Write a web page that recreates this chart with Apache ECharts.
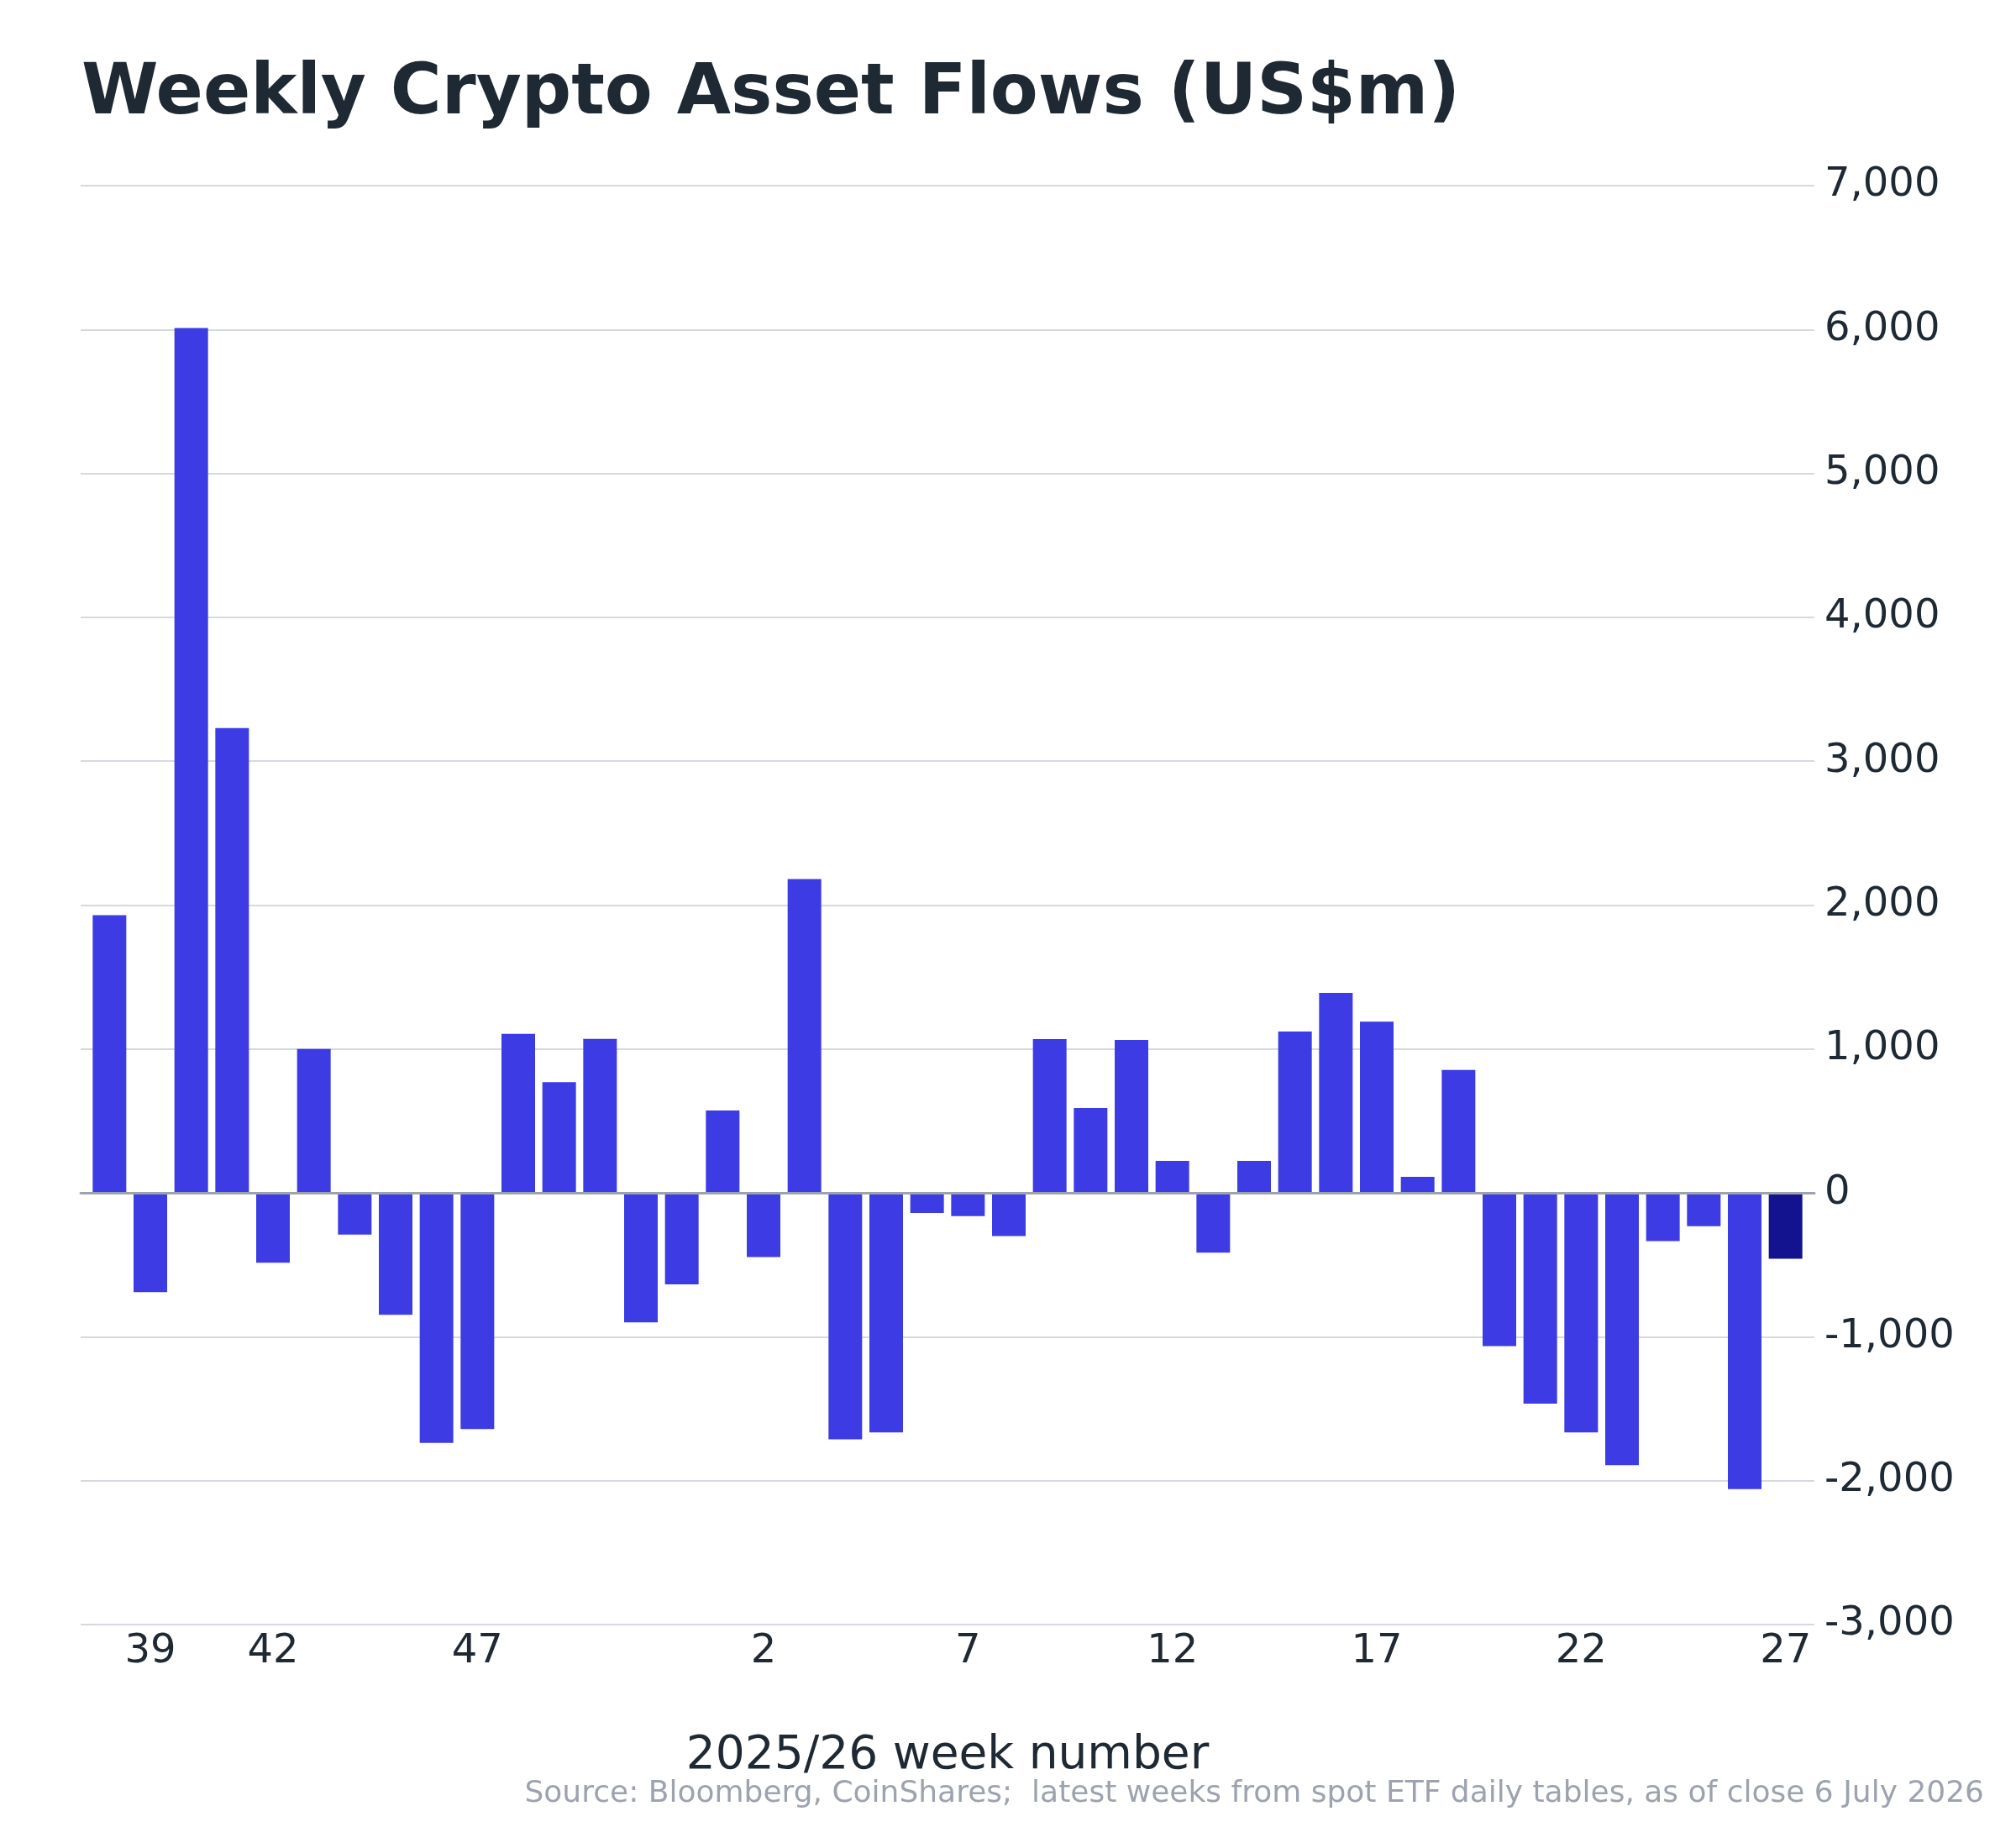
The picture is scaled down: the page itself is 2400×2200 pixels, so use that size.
<!DOCTYPE html>
<html>
<head>
<meta charset="utf-8">
<script src="https://cdn.jsdelivr.net/npm/echarts@6/dist/echarts.min.js"></script>
<style>
  html, body { margin: 0; padding: 0; background: #fff; }
  #chart { width: 2400px; height: 2200px; }
</style>
</head>
<body>
<div id="chart"></div>
<script>
// week numbers, 2025 wk 38 through 2026 wk 27
const weeks = [
  '38', '39', '40', '41', '42', '43', '44', '45', '46', '47', '48', '49', '50', '51', '52',
  '1', '2', '3', '4', '5', '6', '7', '8', '9', '10', '11', '12', '13', '14', '15',
  '16', '17', '18', '19', '20', '21', '22', '23', '24', '25', '26', '27'
]
// weekly net flows, US$m
const flows = [
  1930, -690, 6010, 3230, -485, 1000, -290, -847, -1738, -1642, 1105, 770, 1070, -900, -636,
  572, -446, 2181, -1713, -1665, -140, -162, -300, 1069, 590, 1063, 222, -415, 222, 1122,
  1390, 1190, 112, 855, -1065, -1464, -1665, -1892, -335, -232, -2058, -457
]
const labelWeeks = ['39', '42', '47', '2', '7', '12', '17', '22', '27']
const latestWeek = '27'

const FONT = 'DejaVu Sans'
const INK = '#1F2933'

const chart = echarts.init(document.getElementById('chart'))

chart.setOption({
  animation: false,
  backgroundColor: '#ffffff',
  title: {
    text: 'Weekly Crypto Asset Flows (US$m)',
    left: 92,
    top: 67,
    textStyle: { fontFamily: FONT, fontSize: 83, fontWeight: 'bold', color: INK }
  },
  grid: [
    // gridlines + y labels
    { left: 96, right: 240, top: 221, bottom: 266 },
    // bars, inset a little
    { left: 106, right: 250, top: 221, bottom: 266 }
  ],
  xAxis: [
    {
      gridIndex: 0,
      type: 'value',
      min: 0,
      max: 1,
      z: 5,
      axisLine: { show: true, onZero: true, lineStyle: { color: '#9CA3AF', width: 3 } },
      axisTick: { show: false },
      axisLabel: { show: false },
      splitLine: { show: false }
    },
    {
      gridIndex: 1,
      type: 'category',
      data: weeks,
      axisLine: { show: false, onZero: false },
      axisTick: { show: false },
      axisLabel: {
        interval: (i, v) => labelWeeks.includes(v),
        fontFamily: FONT,
        fontSize: 48,
        color: INK,
        margin: 9
      },
      name: '2025/26 week number',
      nameLocation: 'middle',
      nameGap: 129,
      nameTextStyle: { fontFamily: FONT, fontSize: 55, color: INK }
    }
  ],
  yAxis: [
    {
      gridIndex: 0,
      type: 'value',
      position: 'right',
      min: -3000,
      max: 7000,
      interval: 1000,
      axisLine: { show: false },
      axisTick: { show: false },
      splitLine: { lineStyle: { color: '#D5DAE1', width: 2 } },
      axisLabel: {
        fontFamily: FONT,
        fontSize: 48,
        color: INK,
        margin: 12,
        formatter: v => v.toLocaleString('en-US')
      }
    },
    {
      gridIndex: 1,
      type: 'value',
      min: -3000,
      max: 7000,
      interval: 1000,
      show: false,
      splitLine: { show: false }
    }
  ],
  series: [
    {
      type: 'bar',
      xAxisIndex: 1,
      yAxisIndex: 1,
      data: flows,
      barWidth: 40,
      itemStyle: {
        color: p => (p.name === latestWeek ? '#13128F' : '#3D3BE3')
      }
    }
  ],
  graphic: [
    {
      type: 'text',
      right: 38,
      top: 2118,
      style: {
        text: 'Source: Bloomberg, CoinShares;  latest weeks from spot ETF daily tables, as of close 6 July 2026',
        font: '36px "DejaVu Sans"',
        fill: '#9CA3AF'
      }
    }
  ]
})
</script>
</body>
</html>
